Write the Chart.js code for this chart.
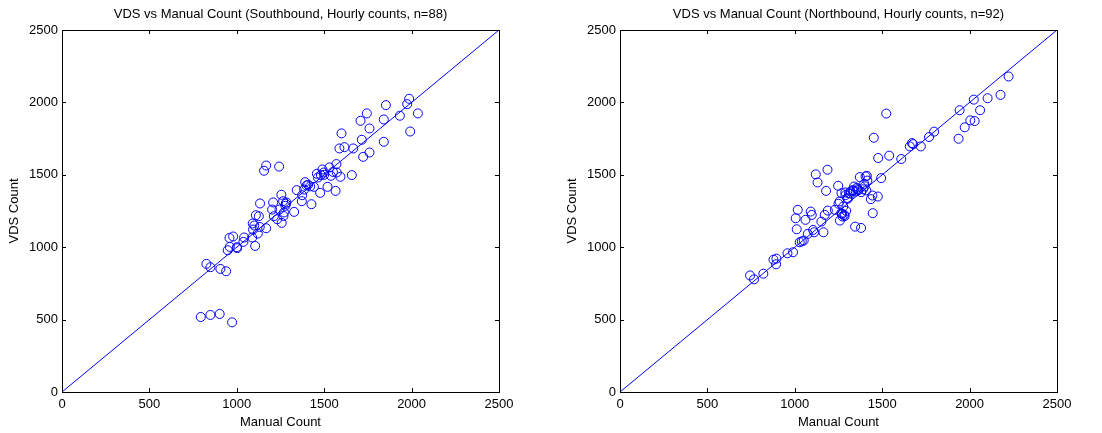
<!DOCTYPE html>
<html>
<head>
<meta charset="utf-8">
<script src="https://cdn.jsdelivr.net/npm/chart.js@4"></script>
<style>
  body { margin: 0; background: #fff; }
  .box { position: absolute; top: 0; width: 551px; height: 433px; }
</style>
</head>
<body>
<div class="box" style="left:0"><canvas id="southChart"></canvas></div>
<div class="box" style="left:551px"><canvas id="northChart"></canvas></div>
<script>
// Southbound (manual, vds)
let southManual = [794,849,902,973,826,849,906,939,948,960,958,979,1002,1038,1042,1088,1093,1091,1105,1109,
  1126,1120,1131,1133,1156,1168,1168,1242,1202,1208,1212,1231,1244,1255,1257,1267,1265,1278,1284,1328,
  1343,1372,1374,1385,1391,1399,1408,1427,1441,1458,1464,1477,1481,1490,1498,1519,1530,1538,1565,1570,
  1572,1593,1587,1599,1616,1658,1666,1708,1715,1723,1744,1759,1759,1841,1841,1853,1933,1975,1986,1992,
  2036,1100,1280,1420,1500,1550,1270,1000];
let southVds = [518,532,539,481,885,862,850,834,979,1002,1064,1074,993,1037,1067,1067,1122,1164,1009,1221,
  1214,1094,1140,1302,1528,1564,1131,1557,1260,1309,1214,1193,1260,1362,1168,1216,1318,1286,1309,1244,
  1394,1318,1359,1398,1449,1426,1431,1297,1417,1507,1481,1375,1498,1537,1516,1417,1551,1493,1389,1574,
  1516,1486,1682,1786,1691,1498,1682,1873,1742,1624,1924,1820,1654,1882,1728,1981,1908,1988,2025,1799,
  1924,1150,1300,1420,1500,1520,1240,1000];

// Northbound (manual, vds)
let northManual = [744,767,820,878,895,893,958,990,1028,1051,1011,1005,1017,1061,1074,1091,1097,1105,1111,1120,
  1130,1152,1164,1171,1179,1187,1189,1229,1248,1256,1258,1266,1267,1273,1277,1283,1289,1294,1304,1309,
  1319,1330,1339,1345,1349,1359,1372,1379,1397,1405,1412,1409,1435,1444,1446,1452,1475,1477,1494,1523,
  1540,1609,1658,1670,1677,1721,1768,1797,1937,1943,1972,2004,2024,2029,2060,2103,2177,2223,
  1290,1320,1335,1355,1365,1380,1390,1400,1415,1300,1270,1285,1250,1040];
let northVds = [805,778,817,914,921,882,958,965,1034,1046,1124,1200,1258,1189,1092,1246,1223,1119,1103,1503,
  1447,1177,1103,1223,1389,1535,1253,1258,1424,1316,1184,1235,1373,1212,1281,1223,1378,1251,1336,1373,
  1385,1394,1419,1142,1385,1401,1484,1133,1438,1489,1493,1392,1332,1357,1235,1756,1350,1616,1477,1923,
  1632,1609,1696,1719,1712,1696,1761,1798,1749,1946,1828,1876,2019,1871,1946,2029,2052,2179,
  1360,1370,1390,1410,1395,1380,1400,1420,1460,1340,1230,1215,1300,1040];

let lineX = [0, 2500];
let axisTicks = [0, 500, 1000, 1500, 2000, 2500];
let titles = ['VDS vs Manual Count (Southbound, Hourly counts, n=88)',
              'VDS vs Manual Count (Northbound, Hourly counts, n=92)'];

let blue = '#0000ff';
let fontSpec = { family: 'Liberation Sans, Arial, sans-serif', size: 13 };

// box around the plot plus inward tick marks on all four sides
let matlabBox = {
  id: 'matlabBox',
  afterDraw(chart) {
    let ctx = chart.ctx, a = chart.chartArea;
    let xs = chart.scales.x, ys = chart.scales.y;
    ctx.save();
    ctx.strokeStyle = '#000';
    ctx.lineWidth = 1;
    ctx.strokeRect(Math.round(a.left) + 0.5, Math.round(a.top) + 0.5,
      Math.round(a.right - a.left), Math.round(a.bottom - a.top));
    ctx.beginPath();
    axisTicks.forEach(v => {
      let px = Math.round(xs.getPixelForValue(v)) + 0.5;
      let py = Math.round(ys.getPixelForValue(v)) + 0.5;
      ctx.moveTo(px, a.bottom); ctx.lineTo(px, a.bottom - 4);
      ctx.moveTo(px, a.top); ctx.lineTo(px, a.top + 4);
      ctx.moveTo(a.left, py); ctx.lineTo(a.left + 4, py);
      ctx.moveTo(a.right, py); ctx.lineTo(a.right - 4, py);
    });
    ctx.stroke();
    ctx.restore();
  }
};

function makeChart(id, manual, vds, title, yWidth, yTitlePad, rightPad) {
  let points = manual.map((m, i) => ({ x: m, y: vds[i] }));
  return new Chart(document.getElementById(id), {
    type: 'scatter',
    data: {
      datasets: [{
        data: points,
        pointStyle: 'circle',
        pointRadius: 4.5,
        pointBorderWidth: 1,
        pointBackgroundColor: 'rgba(0,0,0,0)',
        pointBorderColor: blue,
        pointHoverRadius: 4.5
      }, {
        type: 'line',
        data: lineX.map(v => ({ x: v, y: v })),
        borderColor: blue,
        borderWidth: 1,
        pointRadius: 0,
        fill: false
      }]
    },
    options: {
      responsive: true,
      maintainAspectRatio: false,
      animation: false,
      events: [],
      layout: { padding: { left: 0, right: rightPad, top: 0, bottom: 0 } },
      plugins: {
        legend: { display: false },
        tooltip: { enabled: false },
        title: {
          display: true,
          fullSize: false,
          text: title,
          color: '#000',
          font: { ...fontSpec, weight: 'normal' },
          padding: { top: 7, bottom: 7.4 }
        }
      },
      scales: {
        x: {
          type: 'linear',
          min: 0, max: 2500,
          ticks: { stepSize: 500, color: '#000', font: fontSpec, padding: 5, maxRotation: 0, callback: v => String(v) },
          grid: { display: false, drawTicks: false },
          border: { display: false },
          title: { display: true, text: 'Manual Count', color: '#000', font: fontSpec, padding: { top: 0, bottom: 3 } },
          afterFit(s) { s.height = 41; }
        },
        y: {
          type: 'linear',
          min: 0, max: 2500,
          ticks: { stepSize: 500, color: '#000', font: fontSpec, padding: 4, callback: v => String(v) },
          grid: { display: false, drawTicks: false },
          border: { display: false },
          title: { display: true, text: 'VDS Count', color: '#000', font: fontSpec, padding: { top: yTitlePad, bottom: 0 } },
          afterFit(s) { s.width = yWidth; }
        }
      }
    },
    plugins: [matlabBox]
  });
}

makeChart('southChart', southManual, southVds, titles[0], 62, 7, 52);
makeChart('northChart', northManual, northVds, titles[1], 69, 14, 45);
</script>
</body>
</html>
